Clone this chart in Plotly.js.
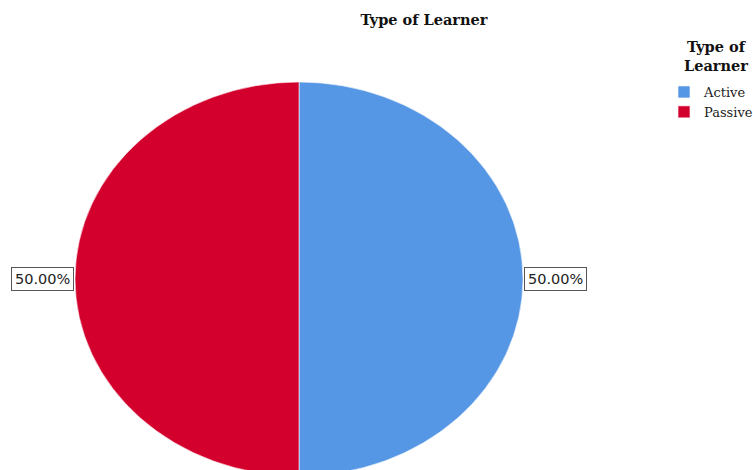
<!DOCTYPE html>
<html>
<head>
<meta charset="utf-8">
<script src="https://cdn.plot.ly/plotly-3.0.1.min.js"></script>
<style>
html,body{margin:0;padding:0;overflow:hidden;background:#fff;}
#chart{width:753px;height:480px;}
</style>
</head>
<body>
<div id="chart"></div>
<script>
var categories = ["Active", "Passive"];
var values = [50, 50];
var colors = ["#5596E5", "#D3002E"];
var legendTitle = "Type of<br>Learner";
var chartTitle = "Type of Learner";

var W = 753, H = 480;
var cx = 299, cy = 279, rx = 224, ry = 197;

var total = values.reduce(function(a,b){return a+b;},0);
var pcts = values.map(function(v){return (v/total*100).toFixed(2) + "%";});

var trace = {
  type: "pie",
  labels: categories,
  values: values,
  marker: {colors: colors, line: {color: "#ffffff", width: 0.6}},
  sort: false,
  direction: "clockwise",
  rotation: 0,
  textinfo: "none",
  hoverinfo: "none",
  domain: {x: [0.05, 0.75], y: [0.05, 0.95]}
};

var serif = "DejaVu Serif, serif";
var labelFont = {family: "DejaVu Sans, Verdana, sans-serif", size: 14.5, color: "#222"};

var layout = {
  width: W, height: H,
  margin: {l:0, r:0, t:0, b:0},
  paper_bgcolor: "#fff",
  title: {text: "<b>" + chartTitle + "</b>", xref: "container", x: 424/W, xanchor: "center", y: 1-20/H, yanchor: "middle",
          font: {family: serif, size: 14.5, color: "#111"}},
  showlegend: true,
  legend: {
    xref: "container", yref: "container",
    x: 664/W, xanchor: "left", y: 1-77/H, yanchor: "top",
    font: {family: serif, size: 13, color: "#222"},
    tracegroupgap: 0, itemwidth: 30, bgcolor: "rgba(0,0,0,0)"
  }
};

function px2paper(s, px, py) {
  return {x: (px - s.l)/s.w, y: 1 - (py - s.t)/s.h};
}

Plotly.newPlot("chart", [trace], layout, {displayModeBar: false, staticPlot: true}).then(function(gd){
  var s = gd._fullLayout._size;
  var pl = px2paper(s, cx - rx - 1, cy);
  var pr = px2paper(s, cx + rx + 1, cy);
  var pt = px2paper(s, 716, 56);
  var anns = [
    {xref:"paper", yref:"paper", x:pl.x, y:pl.y, xanchor:"right", yanchor:"middle",
     text:pcts[1], showarrow:false, font:labelFont, bordercolor:"#555", borderwidth:1, borderpad:3, bgcolor:"#fff"},
    {xref:"paper", yref:"paper", x:pr.x, y:pr.y, xanchor:"left", yanchor:"middle",
     text:pcts[0], showarrow:false, font:labelFont, bordercolor:"#555", borderwidth:1, borderpad:3, bgcolor:"#fff"},
    {xref:"paper", yref:"paper", x:pt.x, y:pt.y, xanchor:"center", yanchor:"middle",
     text:"<b>" + legendTitle + "</b>", showarrow:false, align:"center",
     font:{family: serif, size: 14.5, color: "#111"}}
  ];
  return Plotly.relayout(gd, {annotations: anns});
}).then(function(){
  var tr = document.querySelector(".pielayer .trace");
  var sl = document.querySelector(".pielayer .trace .slice");
  if (tr && sl) {
    tr.removeAttribute("transform");
    var m = /translate\(\s*([-\d.]+)[ ,]+([-\d.]+)/.exec(sl.getAttribute("transform") || "");
    var bb = tr.getBBox();
    var ox = m ? parseFloat(m[1]) : bb.x + bb.width/2;
    var oy = m ? parseFloat(m[2]) : bb.y + bb.height/2;
    var r = bb.width/2;
    tr.setAttribute("transform", "translate(" + cx + "," + cy + ") scale(" + (rx/r) + "," + (ry/r) + ") translate(" + (-ox) + "," + (-oy) + ")");
  }
});
</script>
</body>
</html>
